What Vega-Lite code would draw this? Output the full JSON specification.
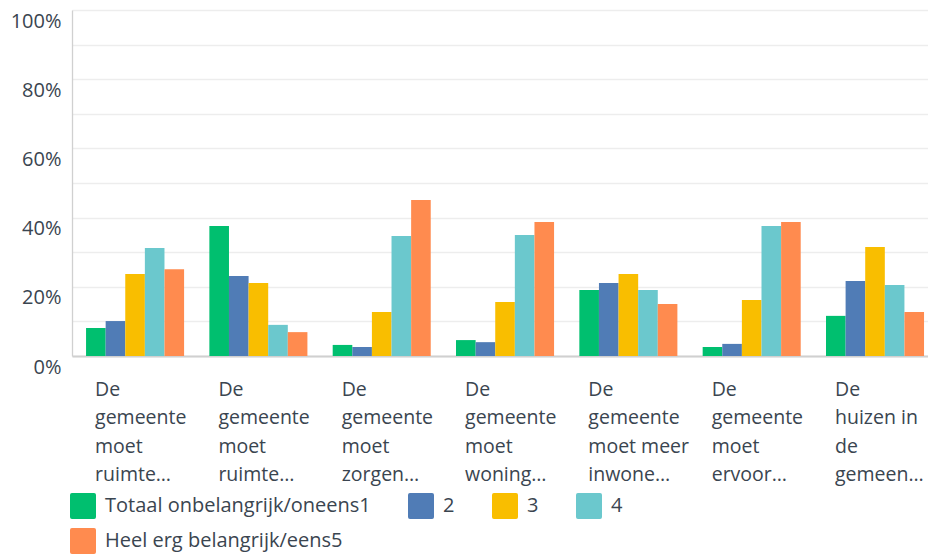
{
  "$schema": "https://vega.github.io/schema/vega-lite/v6.json",
  "width": 856,
  "height": 346,
  "autosize": {"type": "none"},
  "padding": {"left": 72, "top": 10, "right": 0, "bottom": 203},
  "background": "white",
  "config": {
    "view": {"stroke": null},
    "font": "Open Sans"
  },
  "data": {
    "values": [
      {"vraag": "De|gemeente|moet|ruimte…", "antwoord": "Totaal onbelangrijk/oneens1", "pct": 0.081},
      {"vraag": "De|gemeente|moet|ruimte…", "antwoord": "2", "pct": 0.101},
      {"vraag": "De|gemeente|moet|ruimte…", "antwoord": "3", "pct": 0.237},
      {"vraag": "De|gemeente|moet|ruimte…", "antwoord": "4", "pct": 0.312},
      {"vraag": "De|gemeente|moet|ruimte…", "antwoord": "Heel erg belangrijk/eens5", "pct": 0.251},
      {"vraag": "De|gemeente|moet|ruimte… ", "antwoord": "Totaal onbelangrijk/oneens1", "pct": 0.376},
      {"vraag": "De|gemeente|moet|ruimte… ", "antwoord": "2", "pct": 0.231},
      {"vraag": "De|gemeente|moet|ruimte… ", "antwoord": "3", "pct": 0.211},
      {"vraag": "De|gemeente|moet|ruimte… ", "antwoord": "4", "pct": 0.090},
      {"vraag": "De|gemeente|moet|ruimte… ", "antwoord": "Heel erg belangrijk/eens5", "pct": 0.069},
      {"vraag": "De|gemeente|moet|zorgen…", "antwoord": "Totaal onbelangrijk/oneens1", "pct": 0.032},
      {"vraag": "De|gemeente|moet|zorgen…", "antwoord": "2", "pct": 0.026},
      {"vraag": "De|gemeente|moet|zorgen…", "antwoord": "3", "pct": 0.127},
      {"vraag": "De|gemeente|moet|zorgen…", "antwoord": "4", "pct": 0.347},
      {"vraag": "De|gemeente|moet|zorgen…", "antwoord": "Heel erg belangrijk/eens5", "pct": 0.451},
      {"vraag": "De|gemeente|moet|woning…", "antwoord": "Totaal onbelangrijk/oneens1", "pct": 0.046},
      {"vraag": "De|gemeente|moet|woning…", "antwoord": "2", "pct": 0.040},
      {"vraag": "De|gemeente|moet|woning…", "antwoord": "3", "pct": 0.156},
      {"vraag": "De|gemeente|moet|woning…", "antwoord": "4", "pct": 0.350},
      {"vraag": "De|gemeente|moet|woning…", "antwoord": "Heel erg belangrijk/eens5", "pct": 0.387},
      {"vraag": "De|gemeente|moet meer|inwone…", "antwoord": "Totaal onbelangrijk/oneens1", "pct": 0.191},
      {"vraag": "De|gemeente|moet meer|inwone…", "antwoord": "2", "pct": 0.211},
      {"vraag": "De|gemeente|moet meer|inwone…", "antwoord": "3", "pct": 0.237},
      {"vraag": "De|gemeente|moet meer|inwone…", "antwoord": "4", "pct": 0.191},
      {"vraag": "De|gemeente|moet meer|inwone…", "antwoord": "Heel erg belangrijk/eens5", "pct": 0.150},
      {"vraag": "De|gemeente|moet|ervoor…", "antwoord": "Totaal onbelangrijk/oneens1", "pct": 0.026},
      {"vraag": "De|gemeente|moet|ervoor…", "antwoord": "2", "pct": 0.035},
      {"vraag": "De|gemeente|moet|ervoor…", "antwoord": "3", "pct": 0.162},
      {"vraag": "De|gemeente|moet|ervoor…", "antwoord": "4", "pct": 0.376},
      {"vraag": "De|gemeente|moet|ervoor…", "antwoord": "Heel erg belangrijk/eens5", "pct": 0.387},
      {"vraag": "De|huizen in|de|gemeen…", "antwoord": "Totaal onbelangrijk/oneens1", "pct": 0.116},
      {"vraag": "De|huizen in|de|gemeen…", "antwoord": "2", "pct": 0.217},
      {"vraag": "De|huizen in|de|gemeen…", "antwoord": "3", "pct": 0.315},
      {"vraag": "De|huizen in|de|gemeen…", "antwoord": "4", "pct": 0.205},
      {"vraag": "De|huizen in|de|gemeen…", "antwoord": "Heel erg belangrijk/eens5", "pct": 0.127}
    ]
  },
  "mark": {"type": "bar"},
  "encoding": {
    "x": {
      "field": "vraag",
      "type": "nominal",
      "sort": null,
      "scale": {"paddingInner": 0.205, "paddingOuter": 0.073, "align": 0.78},
      "axis": {
        "title": null,
        "ticks": false,
        "domainColor": "#d0d0d0",
        "domainWidth": 2,
        "labelExpr": "split(datum.label, '|')",
        "labelAngle": 0,
        "labelAlign": "left",
        "labelBaseline": "top",
        "labelOffset": -40,
        "labelPadding": 24,
        "labelFontSize": 19.5,
        "labelLineHeight": 28.5,
        "labelColor": "#3a4550",
        "labelLimit": 300
      }
    },
    "xOffset": {
      "field": "antwoord",
      "type": "nominal",
      "sort": ["Totaal onbelangrijk/oneens1", "2", "3", "4", "Heel erg belangrijk/eens5"],
      "scale": {"paddingInner": 0, "paddingOuter": 0}
    },
    "y": {
      "field": "pct",
      "type": "quantitative",
      "scale": {"domain": [0, 1]},
      "axis": {
        "title": null,
        "values": [0, 0.1, 0.2, 0.3, 0.4, 0.5, 0.6, 0.7, 0.8, 0.9, 1],
        "labelExpr": "round(datum.value * 10) % 2 == 1 ? '' : format(datum.value, '.0%')",
        "ticks": false,
        "domainColor": "#d0d0d0",
        "domainWidth": 1.3,
        "gridColor": "#ededed",
        "gridWidth": 1.3,
        "labelBaseline": "top",
        "labelOffset": 1,
        "labelPadding": 11,
        "labelFontSize": 20,
        "labelColor": "#3a4550"
      }
    },
    "color": {
      "field": "antwoord",
      "type": "nominal",
      "scale": {
        "domain": ["Totaal onbelangrijk/oneens1", "2", "3", "4", "Heel erg belangrijk/eens5"],
        "range": ["#00BF6F", "#507CB6", "#F9BE00", "#6BC8CD", "#FF8B4F"]
      },
      "legend": {
        "title": null,
        "orient": "none",
        "legendX": -2,
        "legendY": 483,
        "direction": "horizontal",
        "columns": 4,
        "padding": 0,
        "symbolType": "M-0.85,-1H0.85Q1,-1 1,-0.85V0.85Q1,1 0.85,1H-0.85Q-1,1 -1,0.85V-0.85Q-1,-1 -0.85,-1Z",
        "symbolSize": 676,
        "symbolStrokeWidth": 0,
        "symbolOpacity": 1,
        "labelFontSize": 20,
        "labelColor": "#3a4550",
        "labelOffset": 9,
        "columnPadding": 37,
        "rowPadding": 9,
        "labelLimit": 400
      }
    }
  }
}
